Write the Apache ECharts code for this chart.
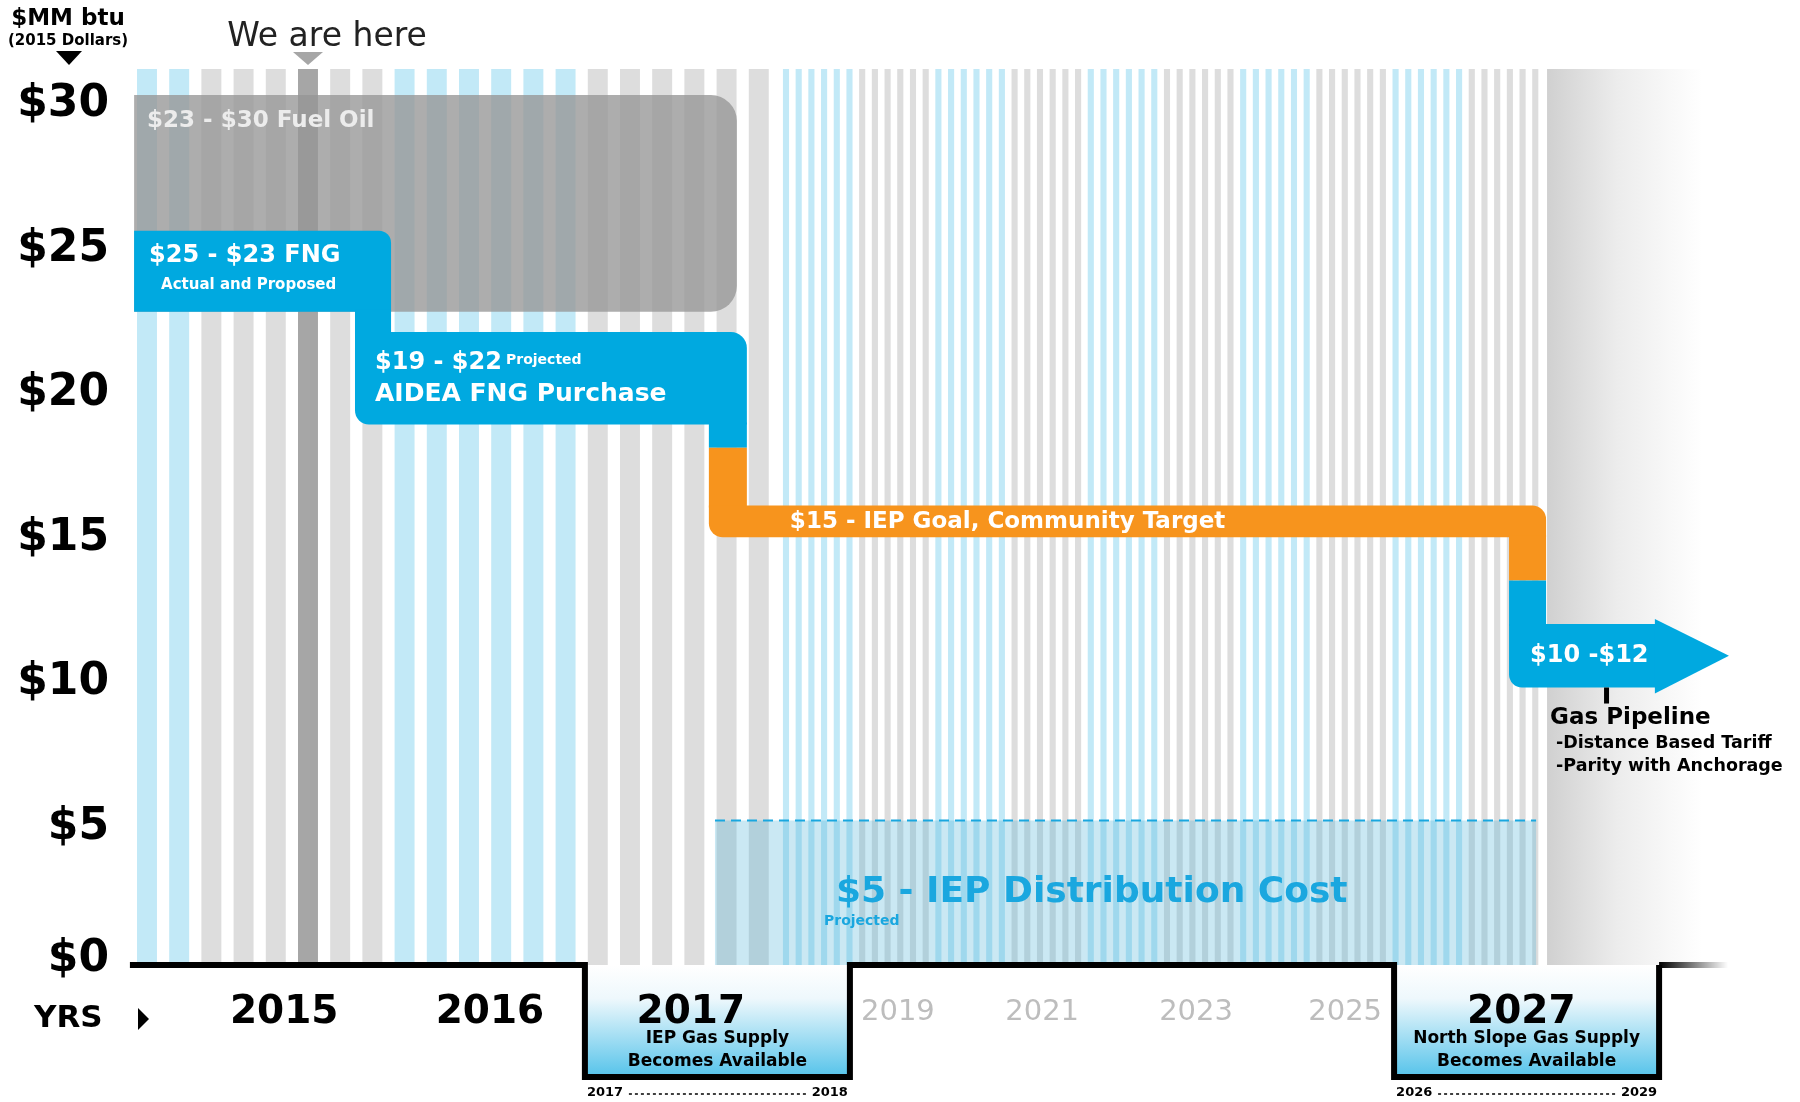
<!DOCTYPE html>
<html>
<head>
<meta charset="utf-8">
<title>Fuel price steps</title>
<script src="https://cdn.jsdelivr.net/npm/echarts@6/dist/echarts.min.js"></script>
<style>
  html, body { margin: 0; padding: 0; background: #fff; }
  #chart { width: 1800px; height: 1102px; }
</style>
</head>
<body>
<div id="chart"></div>
<script>
// price axis ($MM btu, 2015 dollars)
const priceMax = 31;

// background stripes of the timeline: wide ones, then thin ones in groups of six
const wideStripes = ['b', 'b', 'g', 'g', 'g', 'd', 'g', 'g', 'b', 'b', 'b', 'b', 'b', 'b', 'g', 'g', 'g', 'g', 'g', 'g'];
const thinGroups = ['b', 'g', 'b', 'g', 'b', 'g', 'b', 'g', 'b', 'g'];
const thinStart = 20.06;
const thinPitch = 0.3944;
const weAreHere = 5; // index of the dark stripe

// price steps: low / high in $, start / end on the timeline
const stepLabels = ['$25 - $23 FNG', '$19 - $22', '$15 - IEP Goal, Community Target', '$10 -$12'];
const stepNotes = ['Actual and Proposed', 'AIDEA FNG Purchase', '', ''];
const stepLow = [22.6, 18.7, 14.8, 9.6];
const stepHigh = [25.4, 21.9, 15.9, 11.8];
const stepStart = [-0.09, 6.77, 17.76, 42.61];
const stepEnd = [7.89, 18.94, 43.76, 47.17];
const dropSplit = [null, 17.9, 13.3]; // where the drop to the next step changes colour
const arrowTip = 49.44;

// fuel oil band and distribution cost
const fuelOilLow = 22.6;
const fuelOilHigh = 30.1;
const fuelOilSpan = [-0.09, 18.63];
const distCost = 5;
const distSpan = [17.95, 43.45];
const fadeSpan = [43.79, 48.6];

// years along the bottom
const yearLabels = ['2015', '2016', '2017', '2019', '2021', '2023', '2025', '2027'];
const yearPos = [4.57, 10.96, 17.2, 23.63, 28.11, 32.89, 37.52, 42.99];
const keyYears = ['2015', '2016', '2017', '2027'];
const baseSpan = [-0.22, 49.41];
const milestoneSpan = [[13.91, 22.14], [39.04, 47.27]];
const milestoneRange = [['2017', '2018'], ['2026', '2029']];
const milestoneText = [['IEP Gas Supply', 'Becomes Available'], ['North Slope Gas Supply', 'Becomes Available']];

const SANS = '"DejaVu Sans", "Noto Sans", sans-serif';
const BLUE = '#00a9e0';
const ORANGE = '#f7941d';
const stripeFill = { b: '#c2e9f7', g: '#dddddd', d: '#a6a6a6' };

const stripeData = [];
wideStripes.forEach((k, i) => stripeData.push([i, i + 0.62, k]));
thinGroups.forEach((k, g) => {
  for (let j = 0; j < 6; j++) {
    const s = thinStart + (g * 6 + j) * thinPitch;
    stripeData.push([s, s + 0.19, k]);
  }
});

function box(a, b) {
  return { x: a[0], y: a[1], width: b[0] - a[0], height: b[1] - a[1] };
}
function label(x, y, text, size, extra) {
  return {
    type: 'text', x: x, y: y,
    style: Object.assign({
      text: text, fill: '#fff', fontSize: size, fontWeight: 'bold', fontFamily: SANS,
      align: 'left', verticalAlign: 'middle'
    }, extra || {})
  };
}

const chart = echarts.init(document.getElementById('chart'));

const tickFont = { fontSize: 44, fontWeight: 'bold', fontFamily: SANS, color: '#000' };

const option = {
  animation: false,
  grid: { left: 137, right: 53, top: 69, bottom: 137 },
  xAxis: { type: 'value', min: 0, max: 50, show: false },
  yAxis: {
    type: 'value', min: 0, max: priceMax, interval: 5,
    axisLine: { show: false }, axisTick: { show: false }, splitLine: { show: false },
    axisLabel: {
      margin: 28, color: '#000', fontSize: 44, fontWeight: 'bold', fontFamily: SANS,
      formatter: v => (v === 0 ? '{z|$0}' : '{n|$' + v + '}'),
      rich: {
        n: Object.assign({ padding: [14, 0, 0, 0] }, tickFont),
        z: Object.assign({ padding: [0, 0, 10, 0] }, tickFont)
      }
    }
  },
  graphic: [
    { type: 'text', x: 68, y: 19, style: { text: '$MM btu', fill: '#000', fontSize: 23, fontWeight: 'bold', fontFamily: SANS, align: 'center', verticalAlign: 'middle' } },
    { type: 'text', x: 68, y: 41, style: { text: '(2015 Dollars)', fill: '#000', fontSize: 15, fontWeight: 'bold', fontFamily: SANS, align: 'center', verticalAlign: 'middle' } },
    { type: 'polygon', shape: { points: [[56, 51], [82, 51], [69, 65]] }, style: { fill: '#000' } },
    { type: 'text', x: 34, y: 1019, style: { text: 'YRS', fill: '#000', fontSize: 31, fontWeight: 'bold', fontFamily: SANS, align: 'left', verticalAlign: 'middle' } },
    { type: 'polygon', shape: { points: [[138, 1008], [149, 1019], [138, 1030]] }, style: { fill: '#000' } }
  ],
  series: [
    { // stripes
      type: 'custom', z: 1, data: stripeData.map(d => [d[0], 0]),
      renderItem: (params, api) => {
        const d = stripeData[params.dataIndex];
        return { type: 'rect', shape: box(api.coord([d[0], priceMax]), api.coord([d[1], 0])), style: { fill: stripeFill[d[2]] } };
      }
    },
    { // grey fade at the right end
      type: 'custom', z: 1, data: [[fadeSpan[0], 0]],
      renderItem: (params, api) => ({
        type: 'rect',
        shape: box(api.coord([fadeSpan[0], priceMax]), api.coord([fadeSpan[1], 0])),
        style: { fill: new echarts.graphic.LinearGradient(0, 0, 1, 0, [
          { offset: 0, color: '#d0d0d0' }, { offset: 0.45, color: '#ececec' }, { offset: 1, color: '#ffffff' }]) }
      })
    },
    { // we are here
      type: 'custom', z: 5, data: [[weAreHere, priceMax]],
      renderItem: (params, api) => {
        const p = api.coord([weAreHere + 0.31, priceMax]);
        return { type: 'group', children: [
          { type: 'polygon', shape: { points: [[p[0] - 15, p[1] - 17], [p[0] + 15, p[1] - 17], [p[0], p[1] - 4]] }, style: { fill: '#a6a6a6' } },
          label(p[0] + 19, p[1] - 32, 'We are here', 33, { fill: '#222', fontWeight: 'normal', align: 'center' })
        ] };
      }
    },
    { // fuel oil band
      type: 'custom', z: 2, data: [[fuelOilSpan[0], fuelOilHigh]],
      renderItem: (params, api) => {
        const a = api.coord([fuelOilSpan[0], fuelOilHigh]);
        const b = api.coord([fuelOilSpan[1], fuelOilLow]);
        return { type: 'group', children: [
          { type: 'rect', shape: Object.assign(box(a, b), { r: [0, 26, 26, 0] }), style: { fill: 'rgba(150,150,150,0.78)' } },
          label(a[0] + 13, a[1] + 26, '$23 - $30 Fuel Oil', 23, { fill: '#ececec' })
        ] };
      }
    },
    { // distribution cost
      type: 'custom', z: 2, data: [[distSpan[0], distCost]],
      renderItem: (params, api) => {
        const a = api.coord([distSpan[0], distCost]);
        const b = api.coord([distSpan[1], 0]);
        return { type: 'group', children: [
          { type: 'rect', shape: box(a, b), style: { fill: 'rgba(80,180,215,0.3)' } },
          { type: 'line', shape: { x1: a[0], y1: a[1], x2: b[0], y2: a[1] }, style: { stroke: '#1aa7df', lineWidth: 2, lineDash: [10, 6] } },
          label(a[0] + 121, a[1] + 72, '$5 - IEP Distribution Cost', 36, { fill: '#1aa7df' }),
          label(a[0] + 109, a[1] + 101, 'Projected', 14, { fill: '#1aa7df' })
        ] };
      }
    },
    { // price steps
      type: 'custom', z: 3, data: stepLow.map((v, i) => [stepStart[i], v]),
      renderItem: (params, api) => {
        const i = params.dataIndex;
        const col = i === 2 ? ORANGE : BLUE;
        const tl = api.coord([stepStart[i], stepHigh[i]]);
        const br = api.coord([stepEnd[i], stepLow[i]]);
        const kids = [];
        const radii = [[0, 12, 0, 0], [0, 16, 0, 14], [0, 14, 0, 14], [0, 0, 0, 13]];
        kids.push({ type: 'rect', shape: Object.assign(box(tl, br), { r: radii[i] }), style: { fill: col } });
        if (i === 3) {
          const tip = api.coord([arrowTip, (stepLow[i] + stepHigh[i]) / 2]);
          kids.push({ type: 'polygon', shape: { points: [[br[0] - 1, tl[1] - 5], [tip[0], tip[1]], [br[0] - 1, br[1] + 6]] }, style: { fill: col } });
        }
        if (i < 3) {
          const nextCol = i + 1 === 2 ? ORANGE : BLUE;
          const top = api.coord([stepStart[i + 1], stepLow[i]]);
          const bot = api.coord([stepEnd[i], stepHigh[i + 1]]);
          top[1] -= 2; bot[1] += 2;
          if (dropSplit[i] == null) {
            kids.push({ type: 'rect', shape: box(top, bot), style: { fill: col } });
          } else {
            const mid = api.coord([stepStart[i + 1], dropSplit[i]])[1];
            kids.push({ type: 'rect', shape: box(top, [bot[0], mid]), style: { fill: col } });
            kids.push({ type: 'rect', shape: box([top[0], mid], bot), style: { fill: nextCol } });
          }
        }
        const midY = (tl[1] + br[1]) / 2;
        if (i === 0) {
          kids.push(label(tl[0] + 15, tl[1] + 25, stepLabels[0], 24));
          kids.push(label(tl[0] + 27, tl[1] + 54, stepNotes[0], 15));
        } else if (i === 1) {
          kids.push({ type: 'text', x: tl[0] + 20, y: tl[1] + 31, style: {
            text: '{a|' + stepLabels[1] + '} {b|Projected}', fill: '#fff', fontFamily: SANS, fontWeight: 'bold',
            align: 'left', verticalAlign: 'middle',
            rich: {
              a: { fontSize: 24, fontWeight: 'bold', fontFamily: SANS, fill: '#fff' },
              b: { fontSize: 14, fontWeight: 'bold', fontFamily: SANS, fill: '#fff', padding: [0, 0, 6, 0] }
            }
          } });
          kids.push(label(tl[0] + 20, tl[1] + 62, stepNotes[1], 25));
        } else if (i === 2) {
          kids.push(label(tl[0] + 81, midY + 1, stepLabels[2], 23));
        } else {
          kids.push(label(tl[0] + 21, midY, stepLabels[3], 24));
          // gas pipeline note
          kids.push({ type: 'rect', shape: { x: tl[0] + 95, y: br[1], width: 5, height: 16 }, style: { fill: '#000' } });
          kids.push(label(tl[0] + 41, br[1] + 31, 'Gas Pipeline', 23, { fill: '#000' }));
          kids.push(label(tl[0] + 47, br[1] + 56, '-Distance Based Tariff', 17.5, { fill: '#000' }));
          kids.push(label(tl[0] + 47, br[1] + 79, '-Parity with Anchorage', 17.5, { fill: '#000' }));
        }
        return { type: 'group', children: kids };
      }
    },
    { // baseline with milestone boxes
      type: 'custom', z: 4, data: [[baseSpan[0], 0]],
      renderItem: (params, api) => {
        const y0 = api.coord([0, 0])[1];
        const depth = 112;
        const kids = [];
        const pts = [[api.coord([baseSpan[0], 0])[0], y0]];
        let lastX = 0;
        milestoneSpan.forEach((s, k) => {
          const a = api.coord([s[0], 0])[0];
          const b = api.coord([s[1], 0])[0];
          const c = (a + b) / 2;
          kids.push({ type: 'rect', shape: { x: a, y: y0, width: b - a, height: depth }, style: {
            fill: new echarts.graphic.LinearGradient(0, 0, 0, 1, [
              { offset: 0, color: '#ffffff' }, { offset: 0.3, color: '#eef8fc' }, { offset: 1, color: '#55c3ea' }]) } });
          pts.push([a, y0], [a, y0 + depth], [b, y0 + depth], [b, y0]);
          kids.push(label(c, y0 + 74, milestoneText[k][0], 17, { fill: '#000', align: 'center' }));
          kids.push(label(c, y0 + 97, milestoneText[k][1], 17, { fill: '#000', align: 'center' }));
          kids.push(label(a + 2, y0 + 128, milestoneRange[k][0], 13, { fill: '#000' }));
          kids.push(label(b - 2, y0 + 128, milestoneRange[k][1], 13, { fill: '#000', align: 'right' }));
          kids.push({ type: 'line', shape: { x1: a + 44, y1: y0 + 129, x2: b - 44, y2: y0 + 129 }, style: { stroke: '#000', lineWidth: 1.5, lineDash: [3, 3] } });
          lastX = b;
        });
        kids.push({ type: 'polyline', shape: { points: pts }, style: { stroke: '#000', lineWidth: 6, fill: null, lineJoin: 'miter' } });
        const endX = api.coord([baseSpan[1], 0])[0];
        kids.push({ type: 'rect', shape: { x: lastX, y: y0 - 3, width: endX - lastX, height: 6 }, style: {
          fill: new echarts.graphic.LinearGradient(0, 0, 1, 0, [{ offset: 0, color: '#000' }, { offset: 1, color: 'rgba(0,0,0,0)' }]) } });
        return { type: 'group', children: kids };
      }
    },
    { // year labels
      type: 'custom', z: 5, data: yearPos.map(p => [p, 0]),
      renderItem: (params, api) => {
        const i = params.dataIndex;
        const p = api.coord([yearPos[i], 0]);
        const key = keyYears.indexOf(yearLabels[i]) >= 0;
        return label(p[0], p[1] + (key ? 48 : 47), yearLabels[i], key ? 39 : 29, {
          fill: key ? '#000' : '#bdbdbd', fontWeight: key ? 'bold' : 'normal', align: 'center'
        });
      }
    }
  ]
};

chart.setOption(option);
</script>
</body>
</html>
